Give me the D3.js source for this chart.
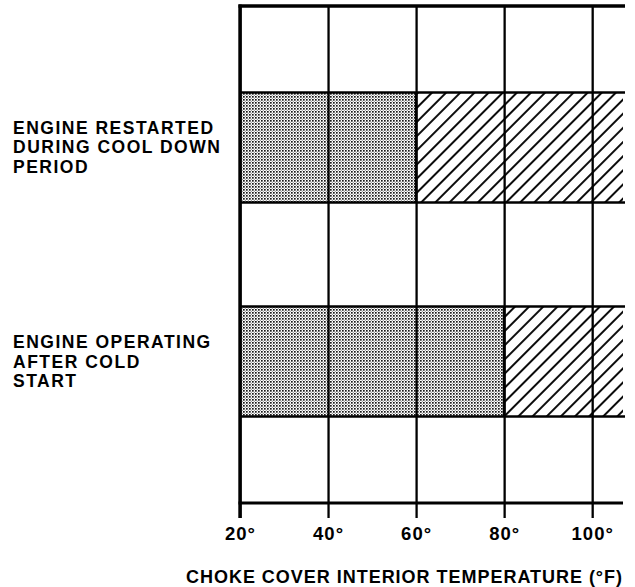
<!DOCTYPE html>
<html>
<head>
<meta charset="utf-8">
<script src="https://cdn.jsdelivr.net/npm/d3@7"></script>
<style>
  html, body { margin: 0; padding: 0; background: #fff; }
  svg { display: block; }
  text { font-family: "Liberation Sans", Arial, Helvetica, sans-serif; font-weight: bold; fill: #000; }
</style>
</head>
<body>
<svg id="chart" width="635" height="587"></svg>
<script>
// ---- data ----
const categories = ["ENGINE RESTARTED|DURING COOL DOWN|PERIOD", "ENGINE OPERATING|AFTER COLD|START"];
const stippleEnd = [60, 80];          // stippled range 20° → value
const hatchEnd = [107, 107];          // hatched range continues to the right edge
const tickValues = [20, 40, 60, 80, 100];
const tickLabels = ["20°", "40°", "60°", "80°", "100°"];
const xTitle = "CHOKE COVER INTERIOR TEMPERATURE (°F)";

const svg = d3.select("#chart");
const mLeft = 240, mRight = 623, mTop = 6, mBottom = 503;

const x = d3.scaleLinear().domain([20, 107]).range([mLeft, mRight]);
const y = d3.scaleBand().domain(categories).range([mTop, mBottom]).paddingInner(0.486).paddingOuter(0.404);

// patterns
const defs = svg.append("defs");
const stip = defs.append("pattern").attr("id", "stipple").attr("patternUnits", "userSpaceOnUse")
  .attr("width", 3).attr("height", 3);
stip.append("rect").attr("width", 3).attr("height", 3).attr("fill", "#fff");
stip.append("rect").attr("x", 0).attr("y", 0).attr("width", 1.7).attr("height", 1.7).attr("fill", "#1a1a1a");
stip.append("rect").attr("x", 1.8).attr("y", 1.8).attr("width", 1.1).attr("height", 1.1).attr("fill", "#888");

const hatch = defs.append("pattern").attr("id", "hatch").attr("patternUnits", "userSpaceOnUse")
  .attr("width", 10).attr("height", 10).attr("patternTransform", "rotate(45)");
hatch.append("rect").attr("width", 10).attr("height", 10).attr("fill", "#fff");
hatch.append("line").attr("x1", 1).attr("y1", 0).attr("x2", 1).attr("y2", 10)
  .attr("stroke", "#000").attr("stroke-width", 1.9);

// bars
const rows = categories.map((c, i) => ({ c, s: stippleEnd[i], h: hatchEnd[i] }));
svg.selectAll("rect.st").data(rows).enter().append("rect").attr("class", "st")
  .attr("x", x(20)).attr("y", d => y(d.c))
  .attr("width", d => x(d.s) - x(20)).attr("height", y.bandwidth())
  .attr("fill", "url(#stipple)");
svg.selectAll("rect.ht").data(rows).enter().append("rect").attr("class", "ht")
  .attr("x", d => x(d.s)).attr("y", d => y(d.c))
  .attr("width", d => x(d.h) - x(d.s)).attr("height", y.bandwidth())
  .attr("fill", "url(#hatch)");
// bar outlines (top & bottom edges across)
rows.forEach(d => {
  [y(d.c), y(d.c) + y.bandwidth()].forEach(yy => {
    svg.append("line").attr("x1", x(20)).attr("x2", x(d.h) + 2).attr("y1", yy).attr("y2", yy)
      .attr("stroke", "#000").attr("stroke-width", 2.4);
  });
  svg.append("line").attr("x1", x(d.s)).attr("x2", x(d.s)).attr("y1", y(d.c)).attr("y2", y(d.c) + y.bandwidth())
    .attr("stroke", "#000").attr("stroke-width", 2.6);
});

// x axis with gridlines
const axis = d3.axisBottom(x).tickValues(tickValues).tickFormat((d, i) => tickLabels[i]).tickSizeOuter(0);
const gx = svg.append("g").attr("transform", `translate(0,${mBottom})`).call(axis);
gx.select(".domain").remove();
gx.selectAll(".tick line").attr("y1", mTop - mBottom).attr("y2", 15).attr("stroke", "#000").attr("stroke-width", 2.3);
gx.selectAll(".tick text").attr("y", 37).attr("dy", 0).attr("font-size", 18.5).style("letter-spacing", "1px")
  .attr("font-family", null).attr("fill", "#000");

// frame lines
svg.append("line").attr("x1", mLeft).attr("x2", mLeft).attr("y1", mTop - 1.5).attr("y2", mBottom + 15)
  .attr("stroke", "#000").attr("stroke-width", 3.4);
svg.append("line").attr("x1", mLeft - 1.5).attr("x2", mRight + 2).attr("y1", mTop).attr("y2", mTop)
  .attr("stroke", "#000").attr("stroke-width", 3.4);
svg.append("line").attr("x1", mLeft - 1.5).attr("x2", mRight).attr("y1", mBottom).attr("y2", mBottom)
  .attr("stroke", "#000").attr("stroke-width", 3.2);

// category labels
rows.forEach(d => {
  const lines = d.c.split("|");
  const cy = y(d.c) + y.bandwidth() / 2;
  const lh = 19.5;
  const t = svg.append("text").attr("font-size", 17.5).style("letter-spacing", "1.5px");
  lines.forEach((ln, i) => {
    t.append("tspan").attr("x", 13).attr("y", cy - (lines.length - 1) * lh / 2 + i * lh + 6).text(ln);
  });
});

// x title
svg.append("text").attr("x", 186).attr("y", 583).attr("font-size", 18)
  .attr("textLength", 436).attr("lengthAdjust", "spacing").text(xTitle);
</script>
</body>
</html>
